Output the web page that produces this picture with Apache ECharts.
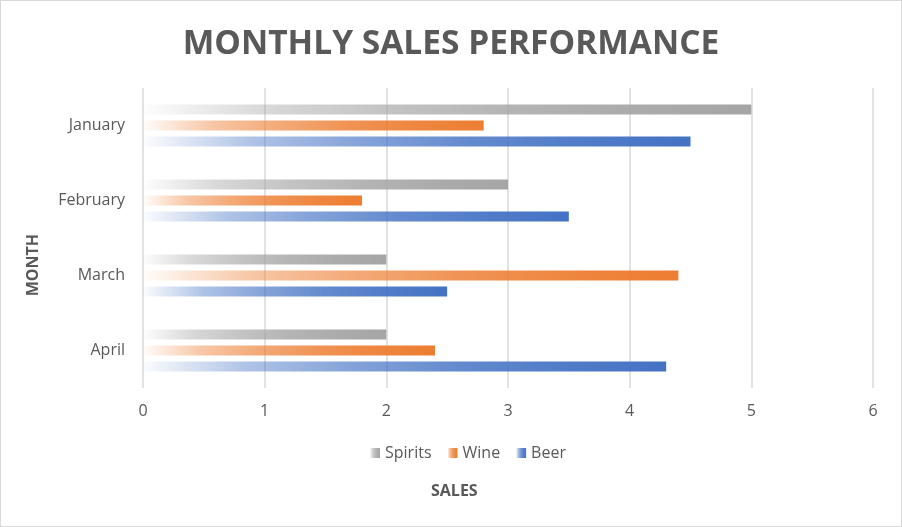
<!DOCTYPE html>
<html>
<head>
<meta charset="utf-8">
<script src="https://cdn.jsdelivr.net/npm/echarts@6/dist/echarts.min.js"></script>
<style>
  html, body { margin: 0; padding: 0; background: #fff; }
  #chart { width: 900px; height: 525px; border: 1px solid #d9d9d9; }
</style>
</head>
<body>
<div id="chart"></div>
<script>
  // data
  var months = ['January', 'February', 'March', 'April'];
  var spirits = [5, 3, 2, 2];
  var wine = [2.8, 1.8, 4.4, 2.4];
  var beer = [4.5, 3.5, 2.5, 4.3];
  var xTicks = [0, 1, 2, 3, 4, 5, 6];

  var textColor = '#595959';
  var font = '"Open Sans", "Noto Sans", sans-serif';

  // gradient: nearly white at the base, full colour at the bar end
  function fade(r, g, b) {
    var rgb = r + ',' + g + ',' + b;
    return new echarts.graphic.LinearGradient(0, 0, 1, 0, [
      { offset: 0, color: 'rgba(' + rgb + ',0.02)' },
      { offset: 0.2, color: 'rgba(' + rgb + ',0.43)' },
      { offset: 0.4, color: 'rgba(' + rgb + ',0.66)' },
      { offset: 0.6, color: 'rgba(' + rgb + ',0.83)' },
      { offset: 0.8, color: 'rgba(' + rgb + ',0.93)' },
      { offset: 1, color: 'rgba(' + rgb + ',1)' }
    ]);
  }

  function makeSeries(name, values, r, g, b) {
    return {
      name: name,
      type: 'bar',
      data: values,
      barWidth: 10,
      barGap: '60%',
      barCategoryGap: '44%',
      itemStyle: { color: fade(r, g, b) }
    };
  }

  var chart = echarts.init(document.getElementById('chart'));
  var option = {
    animation: false,
    title: {
      text: 'MONTHLY SALES PERFORMANCE',
      left: 'center',
      top: 21,
      textStyle: { color: textColor, fontSize: 33.5, fontWeight: 'bold', fontFamily: font }
    },
    legend: {
      bottom: 60,
      left: 364,
      icon: 'rect',
      itemWidth: 10,
      itemHeight: 10,
      itemGap: 16,
      textStyle: { color: textColor, fontSize: 16, fontFamily: font }
    },
    graphic: [{
      type: 'text',
      left: 24,
      top: 233,
      rotation: Math.PI / 2,
      style: {
        text: 'MONTH',
        fill: textColor,
        font: 'bold 16px ' + font
      }
    }, {
      type: 'text',
      left: 430,
      top: 482,
      style: {
        text: 'SALES',
        fill: textColor,
        font: 'bold 16px ' + font
      }
    }],
    grid: { left: 142, right: 28, top: 87, bottom: 138, containLabel: false },
    xAxis: {
      type: 'value',
      min: xTicks[0],
      max: xTicks[xTicks.length - 1],
      interval: 1,
      axisLine: { show: false },
      axisTick: { show: false },
      axisLabel: { color: textColor, fontSize: 16, margin: 15, fontFamily: font },
      splitLine: { show: true, lineStyle: { color: '#d9d9d9', width: 1.5 } }
    },
    yAxis: {
      type: 'category',
      data: months,
      inverse: true,
      axisLine: { show: false },
      axisTick: { show: false },
      axisLabel: { color: textColor, fontSize: 16, margin: 18, fontFamily: font }
    },
    series: [
      makeSeries('Spirits', spirits, 165, 165, 165),
      makeSeries('Wine', wine, 237, 125, 49),
      makeSeries('Beer', beer, 68, 114, 196)
    ]
  };
  chart.setOption(option);
</script>
</body>
</html>
